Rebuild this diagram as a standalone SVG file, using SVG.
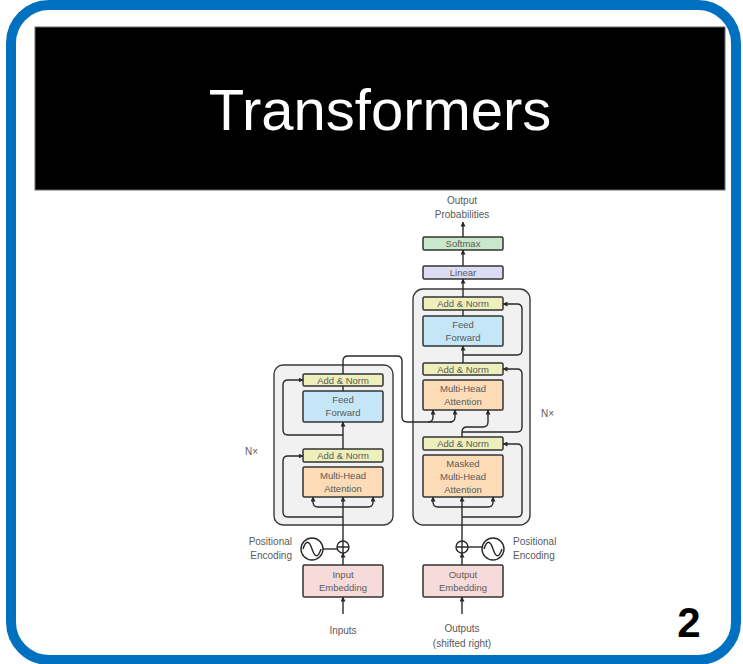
<svg xmlns="http://www.w3.org/2000/svg" width="743" height="664" viewBox="0 0 743 664">
  <style>
    .frame { fill: #ffffff; stroke: #0070c0; stroke-width: 10; }
    .title { font-family: "Liberation Sans", Arial, sans-serif; font-size: 58px; fill: #ffffff; }
    .pagenum { font-family: "Liberation Sans", Arial, sans-serif; font-size: 42px; font-weight: bold; fill: #000000; }
    .stack { fill: #f1f1f1; stroke: #3a3a3a; stroke-width: 1.4; }
    .blk { stroke: #333333; stroke-width: 1.5; }
    .norm { fill: #eef0bc; }
    .ff { fill: #c4e6f6; }
    .attn { fill: #fbdcb6; }
    .emb { fill: #f7dada; }
    .lin { fill: #dcdcf2; }
    .soft { fill: #c9e7ca; }
    .lbl { font-family: "Liberation Sans", Arial, sans-serif; font-size: 9.5px; fill: #5a5a5a; text-anchor: middle; }
    .side { font-family: "Liberation Sans", Arial, sans-serif; font-size: 10px; fill: #5a5a5a; }
    .wire { fill: none; stroke: #2a2a2a; stroke-width: 1.4; }
    .arr { fill: none; stroke: #2a2a2a; stroke-width: 1.4; marker-end: url(#head); }
    .ring { fill: #ffffff; stroke: #2a2a2a; stroke-width: 1.4; }
  </style>
  <defs>
    <marker id="head" viewBox="0 0 10 10" refX="9" refY="5" markerWidth="5" markerHeight="5" markerUnits="userSpaceOnUse" orient="auto">
      <path d="M0,0 L10,5 L0,10 Z" fill="#2a2a2a"/>
    </marker>
  </defs>

  <!-- slide frame and title -->
  <rect class="frame" x="11" y="5" width="725" height="655" rx="38"/>
  <g id="title-bar">
    <rect x="35" y="27" width="690" height="163" fill="#000000" stroke="#6b6b6b" stroke-width="1"/>
    <text class="title" x="380" y="130" text-anchor="middle">Transformers</text>
  </g>
  <text class="pagenum" x="689" y="637" text-anchor="middle">2</text>

  <!-- encoder stack -->
  <g id="encoder-stack">
    <rect class="stack" x="274" y="365" width="119" height="160" rx="9"/>
  </g>
  <g id="enc-addnorm-2">
    <rect class="blk norm" x="303" y="374" width="80" height="12" rx="1.5"/>
    <text class="lbl" x="343" y="383.5">Add &amp; Norm</text>
  </g>
  <g id="enc-feedforward">
    <rect class="blk ff" x="303" y="391" width="80" height="31" rx="1.5"/>
    <text class="lbl" x="343" y="403">Feed</text>
    <text class="lbl" x="343" y="416">Forward</text>
  </g>
  <g id="enc-addnorm-1">
    <rect class="blk norm" x="303" y="449" width="80" height="13" rx="1.5"/>
    <text class="lbl" x="343" y="459">Add &amp; Norm</text>
  </g>
  <g id="enc-attention">
    <rect class="blk attn" x="303" y="467" width="80" height="30" rx="1.5"/>
    <text class="lbl" x="343" y="479">Multi-Head</text>
    <text class="lbl" x="343" y="492">Attention</text>
  </g>
  <g id="enc-embedding">
    <rect class="blk emb" x="303" y="565" width="80" height="32" rx="1.5"/>
    <text class="lbl" x="343" y="578">Input</text>
    <text class="lbl" x="343" y="591">Embedding</text>
  </g>
  <g id="enc-posenc">
    <circle class="ring" cx="343" cy="547" r="6"/>
    <path class="wire" d="M337,547 H349 M343,541 V553"/>
    <circle class="ring" cx="312" cy="549" r="11"/>
    <path class="wire" d="M303,549 C306,540 309,540 312,549 C315,558 318,558 321,549"/>
    <text class="side" x="292" y="545" text-anchor="end">Positional</text>
    <text class="side" x="292" y="559" text-anchor="end">Encoding</text>
  </g>
  <text class="side" x="245" y="455">N×</text>
  <text class="lbl" x="343" y="634" style="font-size:10px">Inputs</text>

  <!-- decoder stack -->
  <g id="decoder-stack">
    <rect class="stack" x="413" y="289" width="117" height="236" rx="10"/>
  </g>
  <g id="dec-addnorm-3">
    <rect class="blk norm" x="423" y="297" width="80" height="13" rx="1.5"/>
    <text class="lbl" x="463" y="307">Add &amp; Norm</text>
  </g>
  <g id="dec-feedforward">
    <rect class="blk ff" x="423" y="316" width="80" height="30" rx="1.5"/>
    <text class="lbl" x="463" y="328">Feed</text>
    <text class="lbl" x="463" y="341">Forward</text>
  </g>
  <g id="dec-addnorm-2">
    <rect class="blk norm" x="423" y="363" width="80" height="12" rx="1.5"/>
    <text class="lbl" x="463" y="372.5">Add &amp; Norm</text>
  </g>
  <g id="dec-cross-attention">
    <rect class="blk attn" x="423" y="380" width="80" height="30" rx="1.5"/>
    <text class="lbl" x="463" y="392">Multi-Head</text>
    <text class="lbl" x="463" y="405">Attention</text>
  </g>
  <g id="dec-addnorm-1">
    <rect class="blk norm" x="423" y="437" width="80" height="13" rx="1.5"/>
    <text class="lbl" x="463" y="447">Add &amp; Norm</text>
  </g>
  <g id="dec-masked-attention">
    <rect class="blk attn" x="423" y="455" width="80" height="42" rx="1.5"/>
    <text class="lbl" x="463" y="467">Masked</text>
    <text class="lbl" x="463" y="480">Multi-Head</text>
    <text class="lbl" x="463" y="493">Attention</text>
  </g>
  <g id="dec-embedding">
    <rect class="blk emb" x="423" y="565" width="80" height="32" rx="1.5"/>
    <text class="lbl" x="463" y="578">Output</text>
    <text class="lbl" x="463" y="591">Embedding</text>
  </g>
  <g id="dec-posenc">
    <circle class="ring" cx="462" cy="547" r="6"/>
    <path class="wire" d="M456,547 H468 M462,541 V553"/>
    <circle class="ring" cx="493" cy="549" r="11"/>
    <path class="wire" d="M484,549 C487,540 490,540 493,549 C496,558 499,558 502,549"/>
    <text class="side" x="513" y="545">Positional</text>
    <text class="side" x="513" y="559">Encoding</text>
  </g>
  <g id="dec-linear">
    <rect class="blk lin" x="423" y="266" width="80" height="13" rx="1.5"/>
    <text class="lbl" x="463" y="276">Linear</text>
  </g>
  <g id="dec-softmax">
    <rect class="blk soft" x="423" y="237" width="80" height="13" rx="1.5"/>
    <text class="lbl" x="463" y="247">Softmax</text>
  </g>
  <text class="side" x="541" y="417">N×</text>
  <text class="lbl" x="462" y="204" style="font-size:10px">Output</text>
  <text class="lbl" x="462" y="218" style="font-size:10px">Probabilities</text>
  <text class="lbl" x="462" y="632" style="font-size:10px">Outputs</text>
  <text class="lbl" x="462" y="647" style="font-size:10px">(shifted right)</text>

  <!-- connectors -->
  <g id="connectors">
    <!-- encoder -->
    <path class="arr" d="M343,614 V597"/>
    <path class="arr" d="M343,565 V553"/>
    <path class="wire" d="M323,549 H337"/>
    <path class="arr" d="M343,541 V497"/>
    <path class="arr" d="M343,507 H318 Q313,507 313,502 V497"/>
    <path class="arr" d="M343,507 H368 Q373,507 373,502 V497"/>
    <path class="arr" d="M343,517 H288 Q283,517 283,512 V461 Q283,456 288,456 H303"/>
    <path class="arr" d="M343,449 V422"/>
    <path class="arr" d="M343,435 H288 Q283,435 283,430 V385 Q283,380 288,380 H303"/>
    <path class="wire" d="M343,391 V386"/>
    <path class="wire" d="M343,374 V361 Q343,356 348,356 H397 Q402,356 402,361 V417 Q402,422 407,422 H452"/>
    <path class="arr" d="M428,422 Q433,422 433,417 V410"/>
    <path class="arr" d="M450,422 Q455,422 455,417 V410"/>
    <!-- decoder -->
    <path class="arr" d="M462,614 V597"/>
    <path class="arr" d="M462,565 V553"/>
    <path class="wire" d="M468,547 H482"/>
    <path class="arr" d="M462,541 V497"/>
    <path class="arr" d="M462,507 H438 Q433,507 433,502 V497"/>
    <path class="arr" d="M462,507 H488 Q493,507 493,502 V497"/>
    <path class="arr" d="M462,517 H517 Q522,517 522,512 V449 Q522,444 517,444 H503"/>
    <path class="arr" d="M462,437 V432 Q462,427 467,427 H483 Q488,427 488,422 V410"/>
    <path class="arr" d="M462,432 H517 Q522,432 522,427 V374 Q522,369 517,369 H503"/>
    <path class="arr" d="M463,363 V346"/>
    <path class="arr" d="M463,355 H517 Q522,355 522,350 V309 Q522,304 517,304 H503"/>
    <path class="wire" d="M463,316 V310"/>
    <path class="arr" d="M463,297 V279"/>
    <path class="arr" d="M463,266 V250"/>
    <path class="arr" d="M463,237 V222"/>
  </g>
</svg>
